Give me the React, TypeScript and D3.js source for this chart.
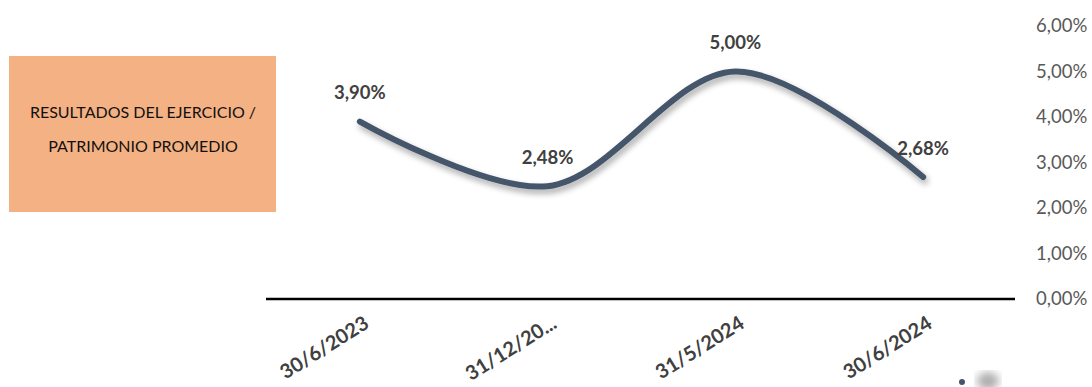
import React from "react";
import * as d3 from "d3";

const categories = ["30/6/2023", "31/12/20...", "31/5/2024", "30/6/2024"];
const values = [3.9, 2.48, 5.0, 2.68];
const yTicks = [0, 1, 2, 3, 4, 5, 6];
const boxLines = ["RESULTADOS DEL EJERCICIO /", "PATRIMONIO PROMEDIO"];

const W = 1092;
const H = 387;
const fmt = (v: number) => v.toFixed(2).replace(".", ",") + "%";

export default function App() {
  const x = d3.scaleBand<string>().domain(categories).range([266, 1017]);
  const y = d3.scaleLinear().domain([0, 6]).range([299, 26]);
  const cx = (c: string) => (x(c) as number) + x.bandwidth() / 2;
  const line = d3
    .line<number>()
    .x((_, i) => cx(categories[i]))
    .y((d) => y(d))
    .curve(d3.curveCatmullRom.alpha(0.5));
  const font = "Lato, 'Open Sans', sans-serif";
  return (
    <svg
      width={W}
      height={H}
      style={{ position: "absolute", left: 0, top: 0, background: "#fff" }}
    >
      <defs>
        <filter id="sh" x="-10%" y="-30%" width="120%" height="160%">
          <feGaussianBlur in="SourceAlpha" stdDeviation="3" />
          <feOffset dx="2" dy="4" result="b" />
          <feComponentTransfer>
            <feFuncA type="linear" slope="0.35" />
          </feComponentTransfer>
          <feMerge>
            <feMergeNode />
            <feMergeNode in="SourceGraphic" />
          </feMerge>
        </filter>
        <filter id="blur">
          <feGaussianBlur stdDeviation="4" />
        </filter>
      </defs>
      <rect x={9} y={56} width={267} height={156} fill="#F4B183" />
      {boxLines.map((t, i) => (
        <text
          key={t}
          x={143}
          y={112 + i * 34}
          dy="0.35em"
          textAnchor="middle"
          fontFamily={font}
          fontSize={16}
          fill="#111"
        >
          {t}
        </text>
      ))}
      {yTicks.map((t) => (
        <text
          key={t}
          x={1036}
          y={y(t)}
          dy="0.35em"
          fontFamily={font}
          fontSize={18.5}
          fill="#595959"
        >
          {fmt(t)}
        </text>
      ))}
      <line x1={266} x2={1015} y1={y(0)} y2={y(0)} stroke="#000" strokeWidth={2.5} />
      <path
        d={line(values) || ""}
        fill="none"
        stroke="#44546A"
        strokeWidth={6}
        strokeLinecap="round"
        filter="url(#sh)"
      />
      {values.map((v, i) => (
        <text
          key={i}
          x={cx(categories[i])}
          y={y(v) - 29}
          dy="0.35em"
          textAnchor="middle"
          fontFamily={font}
          fontWeight="bold"
          fontSize={18.5}
          fill="#404040"
        >
          {fmt(v)}
        </text>
      ))}
      {categories.map((c) => (
        <text
          key={c}
          transform={`translate(${cx(c) + 3},${315}) rotate(-32)`}
          textAnchor="end"
          dy="0.7em"
          fontFamily={font}
          fontWeight="bold"
          fontSize={20}
          fill="#404040"
        >
          {c}
        </text>
      ))}
      <ellipse cx={988} cy={381} rx={11} ry={9} fill="#777" opacity={0.6} filter="url(#blur)" />
      <circle cx={962} cy={382} r={3} fill="#44546A" />
    </svg>
  );
}
